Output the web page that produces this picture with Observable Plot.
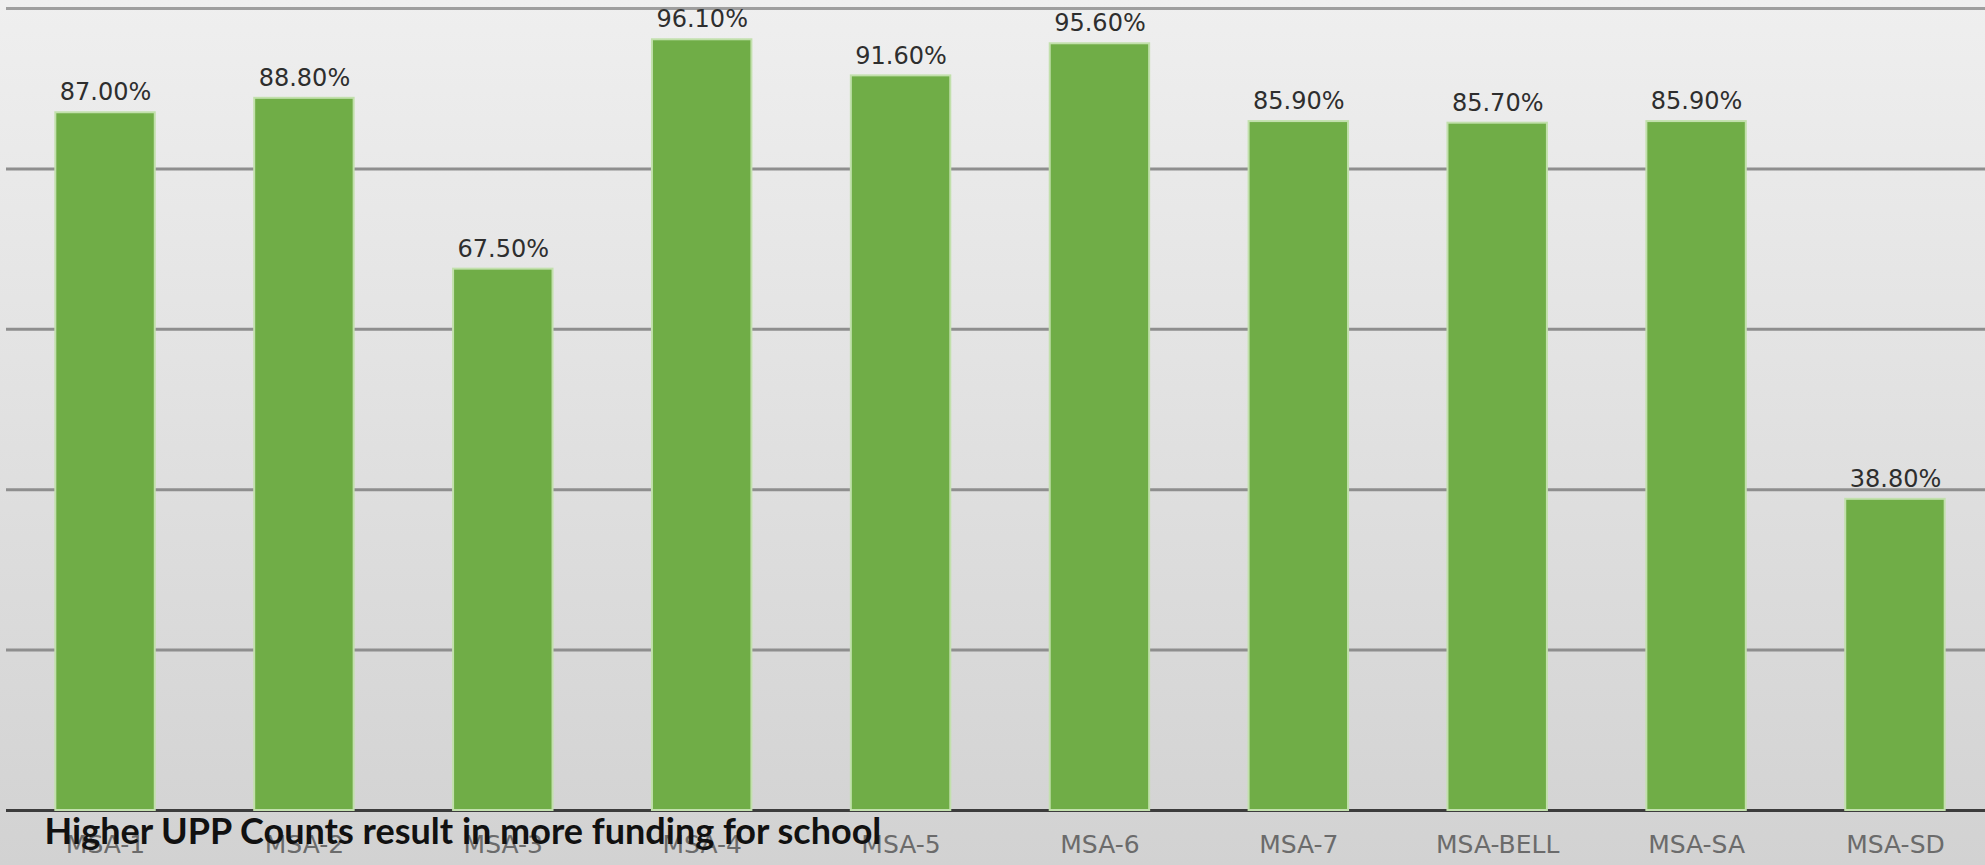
<!DOCTYPE html>
<html>
<head>
<meta charset="utf-8">
<script src="https://cdn.jsdelivr.net/npm/d3@7"></script>
<script src="https://cdn.jsdelivr.net/npm/@observablehq/plot@0.6"></script>
<style>
html, body { margin: 0; padding: 0; }
body { width: 1985px; height: 865px; overflow: hidden; background: linear-gradient(to bottom, #efefef, #d2d2d2); }
#chart { position: relative; }
</style>
</head>
<body>
<div id="chart"></div>
<script>
const schools = ["MSA-1", "MSA-2", "MSA-3", "MSA-4", "MSA-5", "MSA-6", "MSA-7", "MSA-BELL", "MSA-SA", "MSA-SD"];
const rates = [0.870, 0.888, 0.675, 0.961, 0.916, 0.956, 0.859, 0.857, 0.859, 0.388];
const gridTicks = [0.2, 0.4, 0.6, 0.8];
const topTick = [1.0];
const caption = "Higher UPP Counts result in more funding for school";

const fmt = d3.format(".2%");
const data = schools.map((s, i) => ({school: s, rate: rates[i]}));

const chart = Plot.plot({
  width: 1985,
  height: 865,
  marginTop: 8,
  marginBottom: 55,
  marginLeft: 6,
  marginRight: 0,
  style: {background: "transparent", fontFamily: "DejaVu Sans"},
  x: {domain: schools, range: [5.6, 1994.4], paddingInner: 0.5, paddingOuter: 0.25, round: false, axis: null, label: null},
  y: {domain: [0, 1], axis: null},
  marks: [
    Plot.ruleY(gridTicks, {stroke: "#8e8e8e", strokeWidth: 3}),
    Plot.ruleY(topTick, {stroke: "#9e9e9e", strokeWidth: 3}),
    Plot.ruleY([0], {stroke: "#3c3c3c", strokeWidth: 3}),
    Plot.barY(data, {x: "school", y: "rate", fill: "#70ad47", stroke: "#c2e0ac", strokeWidth: 2}),
    Plot.text(data, {x: "school", y: "rate", text: d => fmt(d.rate), dy: -20, lineAnchor: "middle", fontSize: 24, fill: "#2e2e2e"}),
    Plot.axisX({tickSize: 0, tickPadding: 25, fontSize: 25, fill: "#6b6b6b", label: null}),
    Plot.text([caption], {frameAnchor: "bottom-left", dx: 38, dy: 22, lineAnchor: "middle", textAnchor: "start", fontSize: 36, fontWeight: "bold", fontFamily: "Lato", fill: "#111111"})
  ]
});
document.getElementById("chart").append(chart);
</script>
</body>
</html>
